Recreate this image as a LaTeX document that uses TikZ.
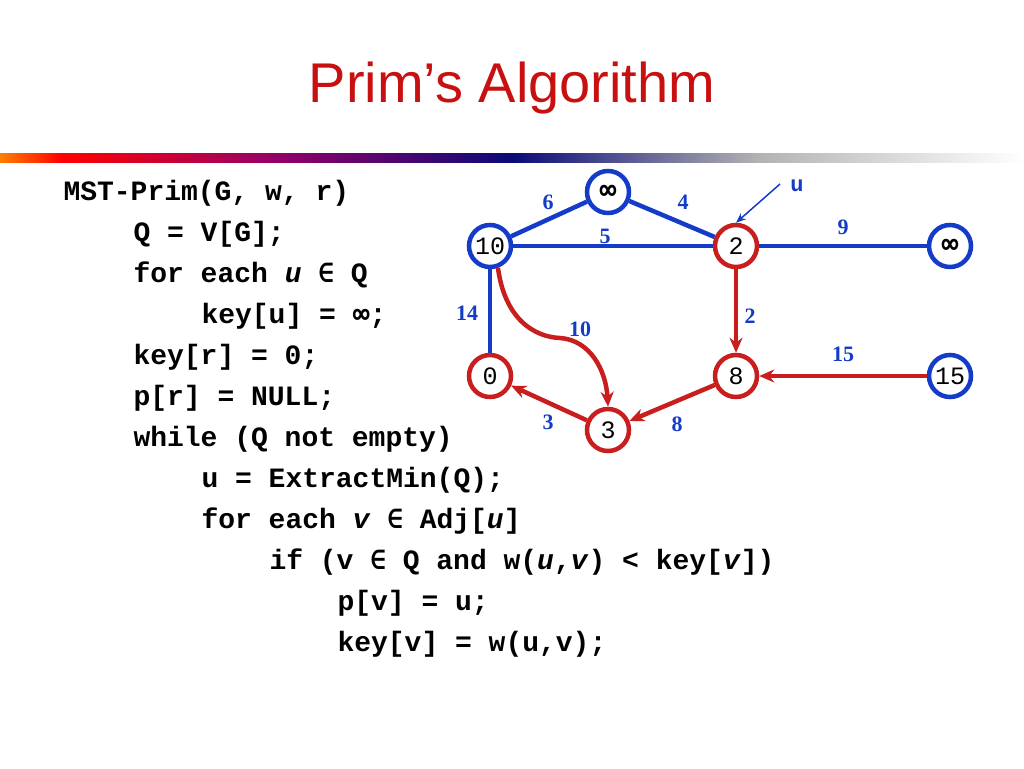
\documentclass[tikz,border=0pt]{standalone}
\usepackage{fontspec}
\setmainfont{Liberation Sans}
\newfontfamily\codefont{Liberation Mono}
\newfontfamily\dvm{DejaVu Sans Mono}
\newfontfamily\serifb{Liberation Serif}
\newcommand{\elem}{{\dvm\fontsize{26}{26}\selectfont ∈}}
\newcommand{\infy}{{\dvm\bfseries\fontsize{28}{28}\selectfont ∞}}
\usetikzlibrary{arrows.meta}
\definecolor{tred}{RGB}{200,16,16}
\definecolor{eblue}{RGB}{20,60,200}
\definecolor{ered}{RGB}{200,30,30}
\definecolor{navy}{RGB}{10,10,120}
\pgfdeclarehorizontalshading{bar}{100bp}{color(0bp)=(orange);color(25bp)=(orange);color(28bp)=(red);color(38bp)=(purple!80!blue);color(50bp)=(navy);color(62bp)=(gray!60);color(75bp)=(white);color(100bp)=(white)}
\begin{document}
\begin{tikzpicture}[x=1pt,y=-1pt,
 vb/.style={circle,draw=eblue,line width=4.5pt,fill=white,minimum size=42pt,inner sep=0pt,font=\codefont\fontsize{25}{25}\selectfont},
 vr/.style={vb,draw=ered},
 eb/.style={draw=eblue,line width=4.5pt},
 er/.style={draw=ered,line width=4.5pt,-{Stealth[length=15pt,width=13pt]}},
 wl/.style={text=eblue,font=\serifb\bfseries\fontsize{22}{22}\selectfont},
 code/.style={anchor=base west,font=\codefont\bfseries\fontsize{28}{28}\selectfont}]
\useasboundingbox (0,0) rectangle (1024,768);
\fill[white] (0,0) rectangle (1024,768);
\node[text=tred,font=\fontsize{56}{56}\selectfont] (title) at (512,88) {Prim’s Algorithm};
\shade[shading=bar] (0,153) rectangle (1024,162);
% code
\node[code] (c1) at (60,200) {MST-Prim(G, w, r)};
\node[code] (c2) at (130,241) {Q = V[G];};
\node[code] (c3) at (130,282) {for each \textit{u} \elem{} Q};
\node[code] (c4) at (198,323) {key[u] = {\dvm\bfseries ∞};};
\node[code] (c5) at (130,364) {key[r] = 0;};
\node[code] (c6) at (130,405) {p[r] = NULL;};
\node[code] (c7) at (130,446) {while (Q not empty)};
\node[code] (c8) at (198,487) {u = ExtractMin(Q);};
\node[code] (c9) at (198,528) {for each \textit{v} \elem{} Adj[\textit{u}]};
\node[code] (c10) at (266,569) {if (v \elem{} Q and w(\textit{u},\textit{v}) < key[\textit{v}])};
\node[code] (c11) at (334,610) {p[v] = u;};
\node[code] (c12) at (334,651) {key[v] = w(u,v);};
% graph
\node[vb] (a) at (490,246) {10};
\node[vb] (b) at (608,192) {\infy};
\node[vr] (c) at (736,246) {2};
\node[vb] (d) at (950,246) {\infy};
\node[vr] (e) at (490,376) {0};
\node[vr] (f) at (736,376) {8};
\node[vb] (g) at (950,376) {15};
\node[vr] (h) at (608,430) {3};
\draw[eb] (a) -- (b); \draw[eb] (b) -- (c); \draw[eb] (a) -- (c);
\draw[eb] (c) -- (d); \draw[eb] (a) -- (e);
\draw[er] (c) -- (f); \draw[er] (g) -- (f); \draw[er] (f) -- (h); \draw[er] (h) -- (e);
\draw[er] (a.-70) .. controls (505,320) and (535,337) .. (560,338) .. controls (590,340) and (606,370) .. (h.north);
\coordinate (uarr) at (780,184);
\draw[draw=eblue,line width=1.5pt,-{Stealth[length=10pt,width=8pt]}] (uarr) -- (c.north);
\node[text=eblue,font=\codefont\bfseries\fontsize{22}{22}\selectfont] (ul) at (797,186) {u};
\node[wl] (l6) at (548,202) {6};
\node[wl] (l4) at (683,202) {4};
\node[wl] (l5) at (605,236) {5};
\node[wl] (l9) at (843,227) {9};
\node[wl] (l14) at (467,313) {14};
\node[wl] (l10) at (580,329) {10};
\node[wl] (l2) at (750,316) {2};
\node[wl] (l15) at (843,354) {15};
\node[wl] (l3) at (548,422) {3};
\node[wl] (l8) at (677,424) {8};
\end{tikzpicture}
\end{document}
